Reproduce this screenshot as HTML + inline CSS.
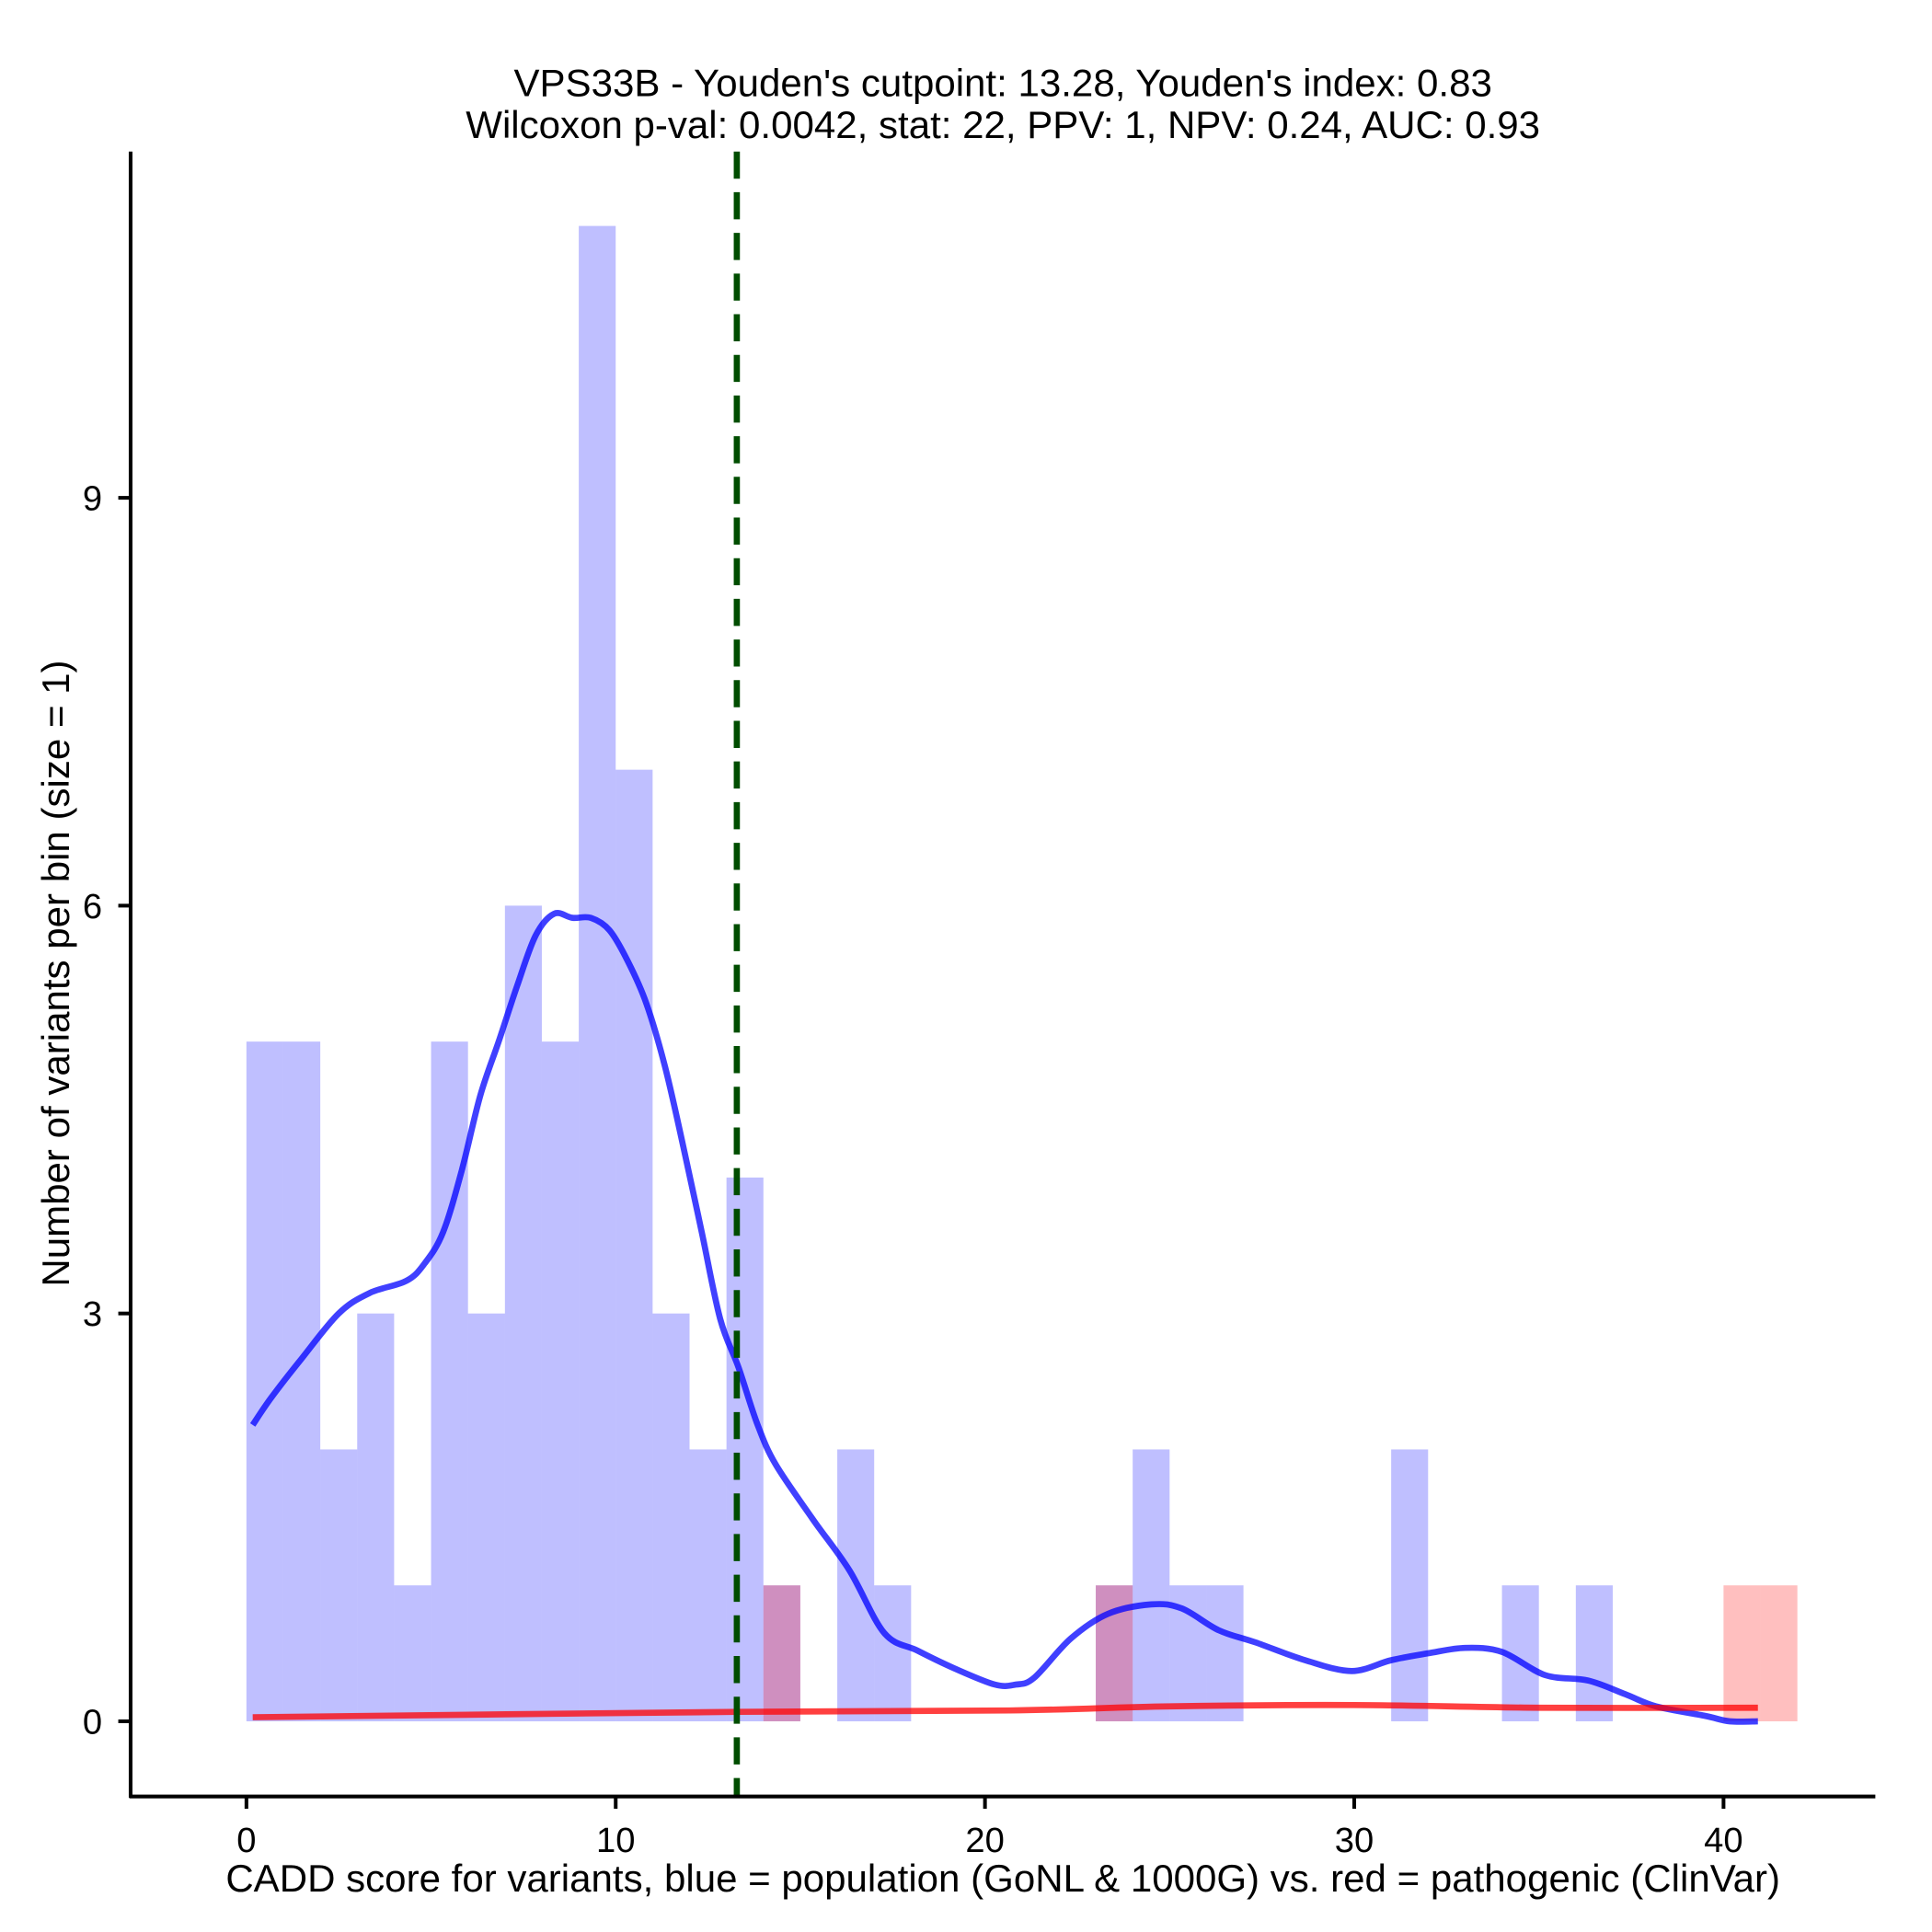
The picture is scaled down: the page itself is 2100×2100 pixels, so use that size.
<!DOCTYPE html>
<html><head><meta charset="utf-8"><style>
html,body{margin:0;padding:0;background:#fff}
svg{display:block}
text{font-family:"Liberation Sans",Arial,sans-serif;fill:#000}
</style></head><body>
<svg id="chart" width="2100" height="2100" viewBox="0 0 1568 1568" xmlns="http://www.w3.org/2000/svg">
<rect width="1568" height="1568" fill="#fff"/>
<text x="814" y="78" font-size="31.4" text-anchor="middle">VPS33B - Youden's cutpoint: 13.28, Youden's index: 0.83</text>
<text x="814" y="112" font-size="31.4" text-anchor="middle">Wilcoxon p-val: 0.0042, stat: 22, PPV: 1, NPV: 0.24, AUC: 0.93</text>
<g id="bars"></g>
<g id="lines"></g>
<g id="axes"></g>
<text x="814" y="1535" font-size="31.4" text-anchor="middle">CADD score for variants, blue = population (GoNL &amp; 1000G) vs. red = pathogenic (ClinVar)</text>
<text x="0" y="0" font-size="31.4" text-anchor="middle" transform="translate(56,790) rotate(-90)">Number of variants per bin (size = 1)</text>
</svg>
<script>
const blueBinStarts = [0,1,2,3,4,5,6,7,8,9,10,11,12,13,14,16,17,23,24,25,26,31,34,36];
const blueCounts    = [5,5,2,3,1,5,3,6,5,11,7,3,2,4,1,2,1,1,2,1,1,2,1,1];
const redBinStarts = [14,23,40,41];
const redCounts    = [1,1,1,1];
const blueDensX = [0.17,0.67,1.5,2.5,3.33,4.33,4.83,5.33,5.83,6.33,6.83,7.33,7.83,8.33,8.83,9.33,9.83,10.33,10.83,11.33,11.83,12.33,12.83,13.33,13.83,14.33,15.33,16.33,17.27,18.17,19.17,20.27,20.83,21.33,22.33,23.33,24.5,25.33,26.33,27.33,28.67,29.93,31,32,33,34,35.17,36.33,37.33,38.17,39.5,40.17,40.93];
const blueDensY = [2.18,2.38,2.67,3.0,3.15,3.24,3.37,3.6,4.05,4.6,5.0,5.41,5.78,5.94,5.91,5.91,5.82,5.59,5.28,4.82,4.23,3.6,2.96,2.6,2.19,1.89,1.49,1.11,0.65,0.52,0.39,0.27,0.27,0.32,0.61,0.79,0.86,0.83,0.67,0.58,0.45,0.37,0.45,0.5,0.54,0.51,0.34,0.3,0.2,0.11,0.04,0,0];
const redDensX = [0.17,13.33,20.67,25,30,35,40.93];
const redDensY = [0.03,0.07,0.08,0.11,0.12,0.1,0.1];
const xTicks = [0,10,20,30,40];
const yTicks = [0,3,6,9];
const cutpoint = 13.28;

const NS="http://www.w3.org/2000/svg";
const xs = v => 200 + v*29.97;
const ys = v => 1397 - v*110.33;
function mk(tag, attrs, parent){const e=document.createElementNS(NS,tag);for(const k in attrs)e.setAttribute(k,attrs[k]);parent.appendChild(e);return e;}
const bars=document.getElementById('bars'), lines=document.getElementById('lines'), axes=document.getElementById('axes');
blueBinStarts.forEach((b,i)=>{
  const r=mk('rect',{x:xs(b),y:ys(blueCounts[i]),width:xs(b+1)-xs(b),height:ys(0)-ys(blueCounts[i]),fill:'#0000ff','fill-opacity':0.25},bars);
  
  
});
redBinStarts.forEach((b,i)=>{
  const r=mk('rect',{x:xs(b),y:ys(redCounts[i]),width:xs(b+1)-xs(b),height:ys(0)-ys(redCounts[i]),fill:'#ff0000','fill-opacity':0.25},bars);
  
  
});
function pathOf(X,Y){
  const P=X.map((x,i)=>[xs(x),ys(Y[i])]);
  let d='M'+P[0][0].toFixed(1)+','+P[0][1].toFixed(1);
  for(let i=0;i<P.length-1;i++){
    const p0=P[Math.max(0,i-1)],p1=P[i],p2=P[i+1],p3=P[Math.min(P.length-1,i+2)];
    const c1=[p1[0]+(p2[0]-p0[0])/6,p1[1]+(p2[1]-p0[1])/6];
    const c2=[p2[0]-(p3[0]-p1[0])/6,p2[1]-(p3[1]-p1[1])/6];
    d+=' C'+c1.map(v=>v.toFixed(1)).join(',')+' '+c2.map(v=>v.toFixed(1)).join(',')+' '+p2.map(v=>v.toFixed(1)).join(',');
  }
  return d;
}
const bl=mk('path',{d:pathOf(blueDensX,blueDensY),fill:'none',stroke:'#0000ff','stroke-opacity':0.75,'stroke-width':5,'stroke-linejoin':'round'},lines);


const rl=mk('path',{d:pathOf(redDensX,redDensY),fill:'none',stroke:'#ff0000','stroke-opacity':0.75,'stroke-width':5,'stroke-linejoin':'round'},lines);


const cl=mk('line',{x1:xs(cutpoint),x2:xs(cutpoint),y1:123,y2:1458,stroke:'#004d00','stroke-width':5,'stroke-dasharray':'22 11'},lines);


const ya=mk('line',{x1:106,x2:106,y1:123,y2:1459,stroke:'#000','stroke-width':3},axes);


const xa=mk('line',{x1:105,x2:1522,y1:1458,y2:1458,stroke:'#000','stroke-width':3},axes);


xTicks.forEach(t=>{
  const l=mk('line',{x1:xs(t),x2:xs(t),y1:1458,y2:1468,stroke:'#000','stroke-width':3},axes);
  
  
  const tx=mk('text',{x:xs(t),y:1503,'font-size':28.5,'text-anchor':'middle'},axes);
  tx.textContent=t;
  
  
});
yTicks.forEach(t=>{
  const l=mk('line',{x1:96,x2:106,y1:ys(t),y2:ys(t),stroke:'#000','stroke-width':3},axes);
  
  
  const tx=mk('text',{x:83,y:ys(t)+10,'font-size':28.5,'text-anchor':'end'},axes);
  tx.textContent=t;
  
  
});
</script>
</body></html>
